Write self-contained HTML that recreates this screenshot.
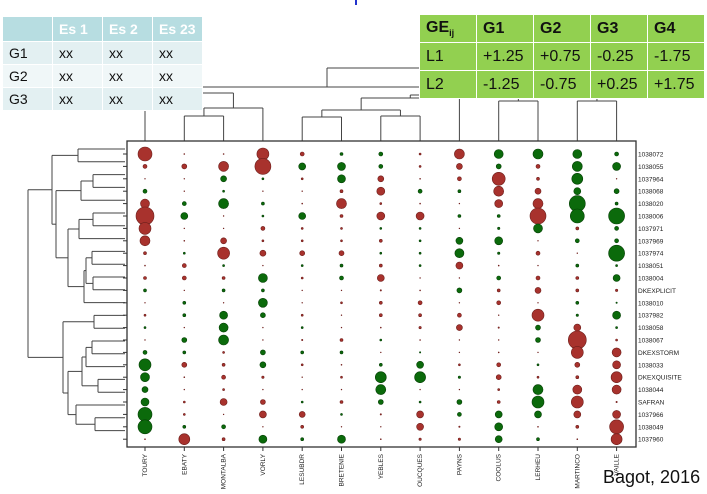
<!DOCTYPE html>
<html><head><meta charset="utf-8">
<style>
body{margin:0;width:707px;height:494px;overflow:hidden;background:#fff;font-family:"Liberation Sans",sans-serif;position:relative}
table{border-collapse:collapse;position:absolute}
#t1{left:2px;top:16px}
#t1 td{width:50px;height:23px;padding:0 0 0 6px;font-size:14px;color:#111;border:1px solid #fff;box-sizing:border-box}
#t1 tr.h td{background:#b7dde1;color:#fff;font-weight:bold;height:25px}
#t1 tr.a td{background:#e3f0f2}
#t1 tr.b td{background:#f0f7f8}
#t2{left:419px;top:14px}
#t2 td{width:57px;height:28px;padding:0 0 0 6px;font-size:16px;color:#111;background:#92d050;border:1px solid #fff;box-sizing:border-box}
#t2 tr.h td{font-weight:bold}
#credit{position:absolute;left:603px;top:467px;font-size:18px;color:#111}
</style></head><body>
<svg id="chart" width="707" height="494" style="position:absolute;left:0;top:0">
<line x1="356" y1="0" x2="356" y2="5" stroke="#2233cc" stroke-width="2"/>
<g id="dend" stroke="#444" stroke-width="1" fill="none"></g>
<rect x="127" y="141" width="509" height="306" fill="none" stroke="#333" stroke-width="1.3"/>
<g id="dots"></g><g id="labels"></g>
</svg>

<table id="t1">
<tr class="h"><td></td><td>Es 1</td><td>Es 2</td><td>Es 23</td></tr>
<tr class="a"><td>G1</td><td>xx</td><td>xx</td><td>xx</td></tr>
<tr class="b"><td>G2</td><td>xx</td><td>xx</td><td>xx</td></tr>
<tr class="a"><td>G3</td><td>xx</td><td>xx</td><td>xx</td></tr>
</table>
<table id="t2">
<tr class="h"><td>GE<sub style="font-size:9px">ij</sub></td><td>G1</td><td>G2</td><td>G3</td><td>G4</td></tr>
<tr><td>L1</td><td>+1.25</td><td>+0.75</td><td>-0.25</td><td>-1.75</td></tr>
<tr><td>L2</td><td>-1.25</td><td>-0.75</td><td>+0.25</td><td>+1.75</td></tr>
</table>
<div id="credit">Bagot, 2016</div>

<script>
const columns=["TOURY","EBATY","MONTALBA","VORLY","LESUBDR","BRETENIE","YEBLES","OUCQUES","PAYNS","COOLUS","LERHEU","MARTINCO","VAILLE"];
const rows=["1038072","1038055","1037964","1038068","1038020","1038006","1037971","1037969","1037974","1038051","1038004","DKEXPLICIT","1038010","1037982","1038058","1038067","DKEXSTORM","1038033","DKEXQUISITE","1038044","SAFRAN","1037966","1038049","1037960"];
// positive = red, negative = green, magnitude = balloon size
const values=[
[7,.5,.5,6,2,-1.5,-2,1,5,-4.5,-5,-4.5,-2],
[2,2.5,5,8,-3.5,-4,-2,1,3,-2.5,2,-5,-4],
[.3,.3,-3,-1,1,-4,3,.5,2,6.5,1.5,-5.5,.3],
[-2,0,-1,.3,.3,1.5,4,-2,-1.5,5,3,-3.5,-2.5],
[4.5,-2,-5,-1.5,.5,5,1,.5,.3,4,5,-8,-1.5],
[9,-3.5,.3,-1,-3.5,1.5,4,4,-1.5,-1.5,8,-7,-8],
[6,.3,.3,2,1,1,-1,-1,.3,-1.2,-4.5,1.5,-2],
[5,.5,3,1,1,1,1.5,-1,-3.5,-4,.3,-2,-2],
[1.5,-1,6,3,2.5,2.5,-1,-1,-4.5,-1.2,2,0,-8],
[.5,2,-1,.3,-1,-1.5,1.5,-1,3.5,.5,.3,-1.5,-1],
[1.5,2,1.5,-4.5,1,-2,3.5,.3,.3,-2,2,1.5,-3.5],
[-1.5,.3,-1.5,-1.5,.3,.3,.7,.5,-2.5,1.5,3,1.5,1.2],
[.3,-1.5,.3,-4.5,.3,1,1.5,2,.3,2,.3,-1.5,-.7],
[1,-1.5,-4,-2.5,1,.3,1.5,1.5,2,.3,6,-1.2,-4],
[-1,.3,-4.5,.3,-1,.3,.5,1.2,3,.7,-2.5,3.5,-1],
[.3,-2.5,-5,.3,.7,1.5,-1,.5,.3,.3,-2.5,9,1],
[-2,-1.5,1,-2.5,-1.5,-1.5,.3,-.7,.3,.5,.3,6,4.5],
[-6,2.5,1.5,-3,1,.5,-1.5,-3.5,1,2,-1,2.5,4],
[-4.5,.5,2,1.2,.3,1,-5.5,-5.5,-1.2,2.5,1,1.5,5.5],
[-3,.3,1,.3,.3,.3,-5,.3,.3,1,-5,4.5,4.5],
[-4,1,3.5,2.5,-1,1.5,-2.5,-1,-2.5,1.5,-6,6,.7],
[-7,1,.3,3.5,3,-1,.7,3.5,-2,-3.5,-3.5,3.5,4],
[-7,-1.5,-2,.3,1.5,.3,.3,3.5,.7,-4,.5,1.5,7],
[.5,5.5,1.5,-4,-1.5,-4,.5,1.2,1.2,-3.5,-1.5,.5,5.5]];
const NS="http://www.w3.org/2000/svg";
const X0=145,DX=39.3,Y0=154,DY=12.4;
const xs=i=>X0+i*DX, ys=j=>Y0+j*DY;
const dots=document.getElementById('dots'),lab=document.getElementById('labels'),dend=document.getElementById('dend');
function mk(t,a,p){const e=document.createElementNS(NS,t);for(const k in a)e.setAttribute(k,a[k]);p.appendChild(e);return e;}
values.forEach((r,j)=>r.forEach((v,i)=>{
 const c=mk('circle',{cx:xs(i),cy:ys(j),r:Math.max(Math.abs(v),0.4),fill:v>=0?'#a8322d':'#0b6a0b',stroke:v>=0?'#6e1f1c':'#064006','stroke-width':0.6},dots);
 
 
}));
rows.forEach((n,j)=>{
 const t=mk('text',{x:638,y:ys(j)+2.5,'font-size':6.5,fill:'#222'},lab);t.textContent=n;
 
 
 mk('line',{x1:123,y1:ys(j),x2:127,y2:ys(j),stroke:'#333'},lab);
});
columns.forEach((n,i)=>{
 const t=mk('text',{x:0,y:0,'font-size':6.5,fill:'#222','text-anchor':'end',transform:`translate(${xs(i)+2},454) rotate(-90)`},lab);t.textContent=n;
 
 
 mk('line',{x1:xs(i),y1:447,x2:xs(i),y2:451,stroke:'#333'},lab);
});
function L(x1,y1,x2,y2){mk('line',{x1,y1,x2,y2},dend);}
// column dendrogram: [a,b,height]
function cj(a,b,h){L(a.x,a.y,a.x,h);L(b.x,b.y,b.x,h);L(a.x,h,b.x,h);return {x:(a.x+b.x)/2,y:h};}
const cl=columns.map((_,i)=>({x:xs(i),y:141}));
let n12=cj(cl[1],cl[2],116),n123=cj(n12,cl[3],108),A=cj(cl[0],n123,93);
let n45=cj(cl[4],cl[5],117),n67=cj(cl[6],cl[7],116),n4567=cj(n45,n67,110),B=cj(n4567,cl[8],98);
let n910=cj(cl[9],cl[10],101),n1112=cj(cl[11],cl[12],101),C=cj(n910,n1112,97);
let BC=cj(B,C,95),R=cj(A,BC,87);L(327,87,327,68);L(327,68,420,68);
// row dendrogram: x positions decrease toward root
function rj(a,b,x){L(a.x,a.y,x,a.y);L(b.x,b.y,x,b.y);L(x,a.y,x,b.y);return {x,y:(a.y+b.y)/2};}
const rl=rows.map((_,j)=>({x:125,y:149+j*12.8}));
let r01=rj(rl[0],rl[1],78),r23=rj(rl[2],rl[3],93),r234=rj(r23,rl[4],81);
let r56=rj(rl[5],rl[6],93),r567=rj(r56,rl[7],79);
let r89=rj(rl[8],rl[9],92),r1011=rj(rl[10],rl[11],93),r811=rj(r89,r1011,86),r812=rj(r811,rl[12],84);
let r512=rj(r567,r812,68),r212=rj(r234,r512,56),U=rj(r01,r212,52);
let r1314=rj(rl[13],rl[14],94),r1516=rj(rl[15],rl[16],92),r1517=rj(r1516,rl[17],86);
let r1819=rj(rl[18],rl[19],98),r1519=rj(r1517,r1819,82);
let r2122=rj(rl[21],rl[22],95),r2023=rj(rl[20],r2122,76),r1523=rj(r1519,r2023,68);
let Lw=rj(r1314,r1523,63);rj(U,Lw,28);
</script>
</body></html>
